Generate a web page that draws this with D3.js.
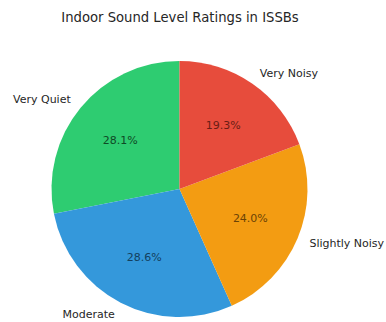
<!DOCTYPE html>
<html>
<head>
<meta charset="utf-8">
<script src="https://cdn.jsdelivr.net/npm/d3@7"></script>
<style>
  html, body { margin: 0; padding: 0; background: #fff; }
  svg { display: block; }
</style>
</head>
<body>
<svg id="chart" width="386" height="322"></svg>
<script>
const categories = ["Very Quiet", "Moderate", "Slightly Noisy", "Very Noisy"];
const values = [28.1, 28.6, 24.0, 19.3];
const colors = ["#2ecc71", "#3498db", "#f39c12", "#e74c3c"];
const pctColors = ["#0e4a26", "#133f5e", "#6b4306", "#6a1d15"];
const title = "Indoor Sound Level Ratings in ISSBs";

const svg = d3.select("#chart");
const cx = 179.5, cy = 189, r = 128;

svg.append("text")
  .attr("x", 180).attr("y", 17)
  .attr("text-anchor", "middle").attr("dominant-baseline", "central")
  .attr("font-family", "DejaVu Sans").attr("font-size", 13.2)
  .attr("fill", "#262626").text(title);

const data = categories.map((c, i) => ({ cat: c, value: values[i], color: colors[i], pc: pctColors[i] }));

// matplotlib style: start at top, counter-clockwise
const pie = d3.pie().sort(null).value(d => d.value)
  .startAngle(0).endAngle(-2 * Math.PI);
const arcs = pie(data);
const arc = d3.arc().innerRadius(0).outerRadius(r);

const g = svg.append("g").attr("transform", `translate(${cx},${cy})`);
g.selectAll("path").data(arcs).join("path")
  .attr("d", arc).attr("fill", d => d.data.color);

function pos(d, f) {
  const a = (d.startAngle + d.endAngle) / 2;
  return [Math.sin(a) * r * f, -Math.cos(a) * r * f];
}

g.selectAll("text.pct").data(arcs).join("text")
  .attr("class", "pct")
  .attr("x", d => pos(d, 0.6)[0]).attr("y", d => pos(d, 0.6)[1])
  .attr("text-anchor", "middle").attr("dominant-baseline", "central")
  .attr("font-family", "DejaVu Sans").attr("font-size", 11)
  .attr("fill", d => d.data.pc)
  .text(d => d.data.value.toFixed(1) + "%");

g.selectAll("text.lbl").data(arcs).join("text")
  .attr("class", "lbl")
  .attr("x", d => pos(d, 1.1)[0]).attr("y", d => pos(d, 1.1)[1])
  .attr("text-anchor", d => pos(d, 1.1)[0] > 0 ? "start" : "end")
  .attr("dominant-baseline", "central")
  .attr("font-family", "DejaVu Sans").attr("font-size", 11)
  .attr("fill", "#262626")
  .text(d => d.data.cat);
</script>
</body>
</html>
